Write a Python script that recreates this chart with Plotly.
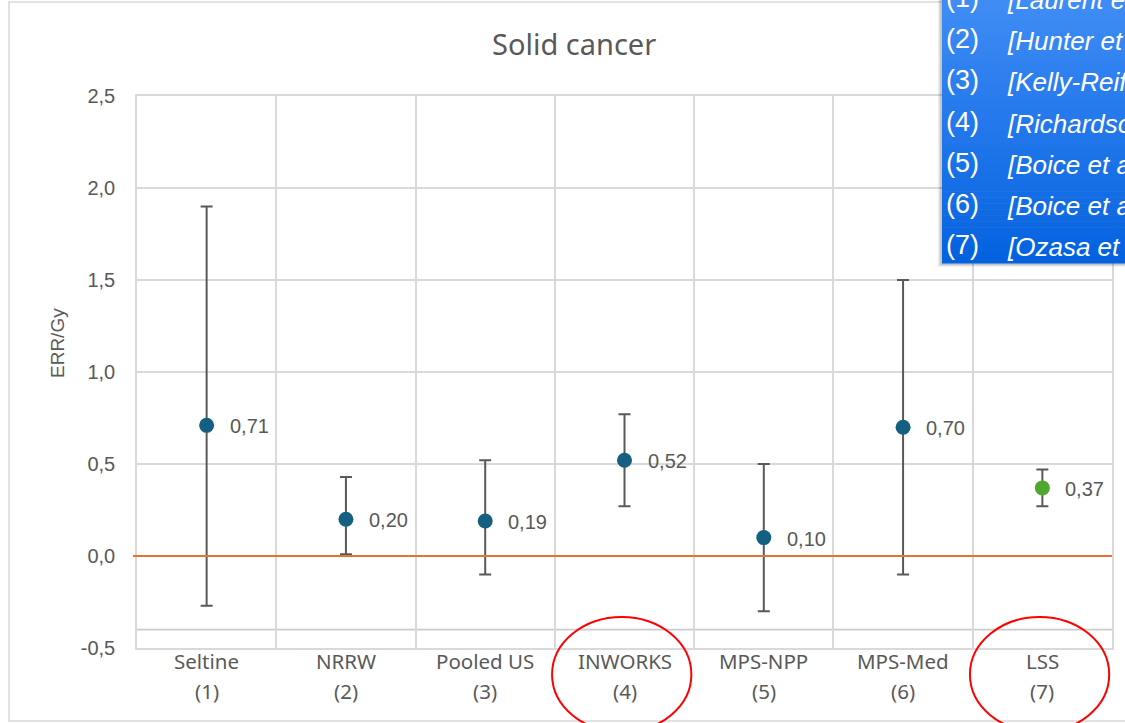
import plotly.graph_objects as go

W, H = 1125, 723

# ---- data -------------------------------------------------------------
studies = ["Seltine", "NRRW", "Pooled US", "INWORKS", "MPS-NPP", "MPS-Med", "LSS"]
study_refs = ["(1)", "(2)", "(3)", "(4)", "(5)", "(6)", "(7)"]
err_per_gy = [0.71, 0.20, 0.19, 0.52, 0.10, 0.70, 0.37]
ci_upper = [1.90, 0.43, 0.52, 0.77, 0.50, 1.50, 0.47]
ci_lower = [-0.27, 0.01, -0.10, 0.27, -0.30, -0.10, 0.27]
point_colors = ["#156082", "#156082", "#156082", "#156082", "#156082", "#156082", "#4EA72E"]
y_ticks = [-0.5, 0.0, 0.5, 1.0, 1.5, 2.0, 2.5]
y_tick_labels = ["-0,5", "0,0", "0,5", "1,0", "1,5", "2,0", "2,5"]
ref_citations = ["[Laurent et al.]", "[Hunter et al.]", "[Kelly-Reif et al.]",
                 "[Richardson et al.]", "[Boice et al.]", "[Boice et al.]", "[Ozasa et al.]"]
highlighted = ["INWORKS", "LSS"]

GREY = "#595959"
GRID = "#d9d9d9"


def px(x):
    return x / W


def py(y):
    return 1 - y / H


err_plus = [u - v for u, v in zip(ci_upper, err_per_gy)]
err_minus = [v - l for v, l in zip(err_per_gy, ci_lower)]

fig = go.Figure()
fig.add_trace(go.Scatter(
    x=studies, y=err_per_gy, mode="markers",
    marker=dict(size=15, color=point_colors, line=dict(width=0)),
    error_y=dict(type="data", array=err_plus, arrayminus=err_minus,
                 color=GREY, thickness=2, width=6),
    showlegend=False, hoverinfo="skip",
))

annotations = []
# value labels next to each point
for s, v in zip(studies, err_per_gy):
    annotations.append(dict(
        x=s, y=v, xref="x", yref="y", text=f"{v:.2f}".replace(".", ","),
        showarrow=False, xanchor="left", yanchor="middle", xshift=21, yshift=-1,
        font=dict(family="Liberation Sans, Arial", size=20, color=GREY)))

# two-line category labels under the axis
for s, r in zip(studies, study_refs):
    annotations.append(dict(x=s, y=py(661), xref="x", yref="paper", text=s,
                            showarrow=False, xanchor="center", yanchor="middle",
                            font=dict(family="Noto Sans", size=20.5, color=GREY)))
    annotations.append(dict(x=s, y=py(691), xref="x", yref="paper", text=r,
                            showarrow=False, xanchor="center", yanchor="middle",
                            font=dict(family="Noto Sans", size=20.5, color=GREY)))

# title and y-axis title
annotations.append(dict(x=px(574), y=py(43), xref="paper", yref="paper", text="Solid cancer",
                        showarrow=False, xanchor="center", yanchor="middle",
                        font=dict(family="Noto Sans", size=29, color=GREY)))
annotations.append(dict(x=px(57), y=py(343), xref="paper", yref="paper", text="ERR/Gy",
                        textangle=-90, showarrow=False, xanchor="center", yanchor="middle",
                        font=dict(family="Liberation Sans, Arial", size=19, color=GREY)))

shapes = []
# outer chart border
shapes.append(dict(type="rect", xref="paper", yref="paper",
                   x0=px(9), x1=px(1140), y0=py(721), y1=py(2),
                   line=dict(color=GRID, width=1.5), layer="below"))
# axis crossing line
shapes.append(dict(type="line", xref="x domain", yref="y", x0=0, x1=1, y0=-0.4, y1=-0.4,
                   line=dict(color="#cccccc", width=1.8), layer="below"))
# reference line at zero
shapes.append(dict(type="line", xref="paper", yref="y", x0=px(133), x1=px(1112), y0=0, y1=0,
                   line=dict(color="#E97132", width=2), layer="above"))

# reference list box (shadow, gradient fill)
bx0, bx1, by0, by1 = 942, 1140, -12, 263
for off, op in [(4, 0.06), (3, 0.08), (2, 0.10)]:
    shapes.append(dict(type="rect", xref="paper", yref="paper",
                       x0=px(bx0 - off), x1=px(bx1), y0=py(by1 + off), y1=py(by0),
                       fillcolor=f"rgba(0,0,0,{op})", line=dict(width=0), layer="above"))
n_strips = 46
top_c = (66, 142, 246)
bot_c = (4, 98, 224)
for i in range(n_strips):
    t = i / (n_strips - 1)
    c = tuple(round(a + (b - a) * t) for a, b in zip(top_c, bot_c))
    ya = by0 + (by1 - by0) * i / n_strips
    yb = by0 + (by1 - by0) * (i + 1) / n_strips
    shapes.append(dict(type="rect", xref="paper", yref="paper",
                       x0=px(bx0), x1=px(bx1), y0=py(yb + 0.6), y1=py(ya),
                       fillcolor=f"rgb{c}", line=dict(width=0), layer="above"))
for i, (r, cite) in enumerate(zip(study_refs, ref_citations)):
    yc = -2 + 41.2 * i
    annotations.append(dict(x=px(944), y=py(yc), xref="paper", yref="paper", text=r,
                            showarrow=False, xanchor="left", yanchor="middle",
                            font=dict(family="Liberation Sans, Arial", size=27, color="white")))
    annotations.append(dict(x=px(1005), y=py(yc + 2), xref="paper", yref="paper",
                            text=f"<i>{cite}</i>",
                            showarrow=False, xanchor="left", yanchor="middle",
                            font=dict(family="Liberation Sans, Arial", size=26, color="white")))

# red ellipses around highlighted studies
idx = {s: i for i, s in enumerate(studies)}
for s in highlighted:
    k = idx[s]
    shapes.append(dict(type="circle", xref="x", yref="paper",
                       x0=k - 0.52, x1=k + 0.48, y0=py(732), y1=py(617),
                       line=dict(color="#FF0000", width=2), layer="above"))

fig.update_layout(
    width=W, height=H,
    margin=dict(l=0, r=0, t=0, b=0, pad=0, autoexpand=False),
    paper_bgcolor="white", plot_bgcolor="white",
    showlegend=False,
    xaxis=dict(domain=[px(137), px(1112)], type="category", categoryorder="array",
               categoryarray=studies, range=[-0.5, len(studies) - 0.5],
               showticklabels=False, ticks="", tickson="boundaries", automargin=False,
               showgrid=True, gridcolor=GRID, gridwidth=1.5,
               showline=True, linecolor=GRID, linewidth=1.5, mirror=True,
               zeroline=False, fixedrange=True),
    yaxis=dict(domain=[py(648), py(96)], range=[-0.5, 2.5],
               tickvals=y_ticks, ticktext=y_tick_labels, ticks="",
               ticklabelstandoff=16, automargin=False,
               tickfont=dict(family="Liberation Sans, Arial", size=20, color=GREY),
               showgrid=True, gridcolor=GRID, gridwidth=1.5,
               showline=True, linecolor=GRID, linewidth=1.5, mirror=True,
               zeroline=False, fixedrange=True),
    annotations=annotations,
    shapes=shapes,
)

fig.write_html("out.html")
